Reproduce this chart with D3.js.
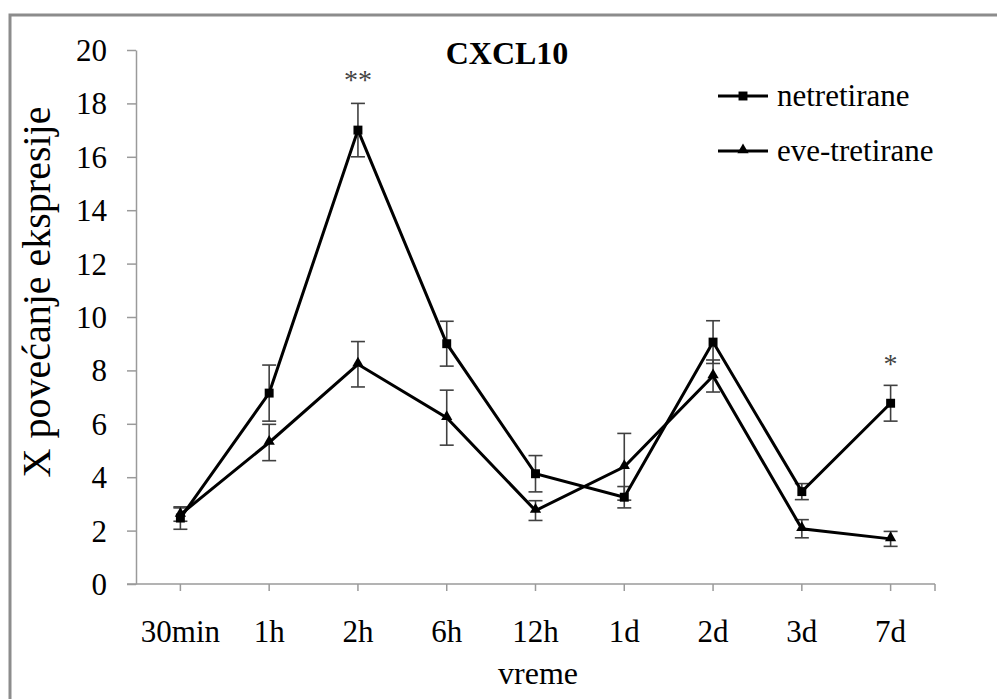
<!DOCTYPE html>
<html>
<head>
<meta charset="utf-8">
<script src="https://cdn.jsdelivr.net/npm/d3@7"></script>
<style>
body{margin:0;background:#fff;}
</style>
</head>
<body>
<script>
var categories=["30min","1h","2h","6h","12h","1d","2d","3d","7d"];
var netretirane=[2.47,7.15,17.0,9.0,4.13,3.25,9.06,3.46,6.77];
var netErr=[0.42,1.05,1.0,0.84,0.68,0.4,0.8,0.3,0.67];
var eveTretirane=[2.6,5.3,8.23,6.23,2.75,4.39,7.79,2.07,1.69];
var eveErr=[0.25,0.68,0.85,1.03,0.37,1.25,0.6,0.34,0.28];
var yTicks=[0,2,4,6,8,10,12,14,16,18,20];
var marks=[{cat:"2h",text:"**",v:18.0},{cat:"7d",text:"*",v:7.39}];

var FONT="Liberation Serif";
var width=997,height=699;
var svg=d3.select("body").append("svg")
	.attr("width",width).attr("height",height);

// frame (only left and top edges visible)
svg.append("path")
	.attr("d","M10,699 V15 H997")
	.attr("fill","none").attr("stroke","#8c8c8c").attr("stroke-width",3);

var x=d3.scaleBand().domain(categories).range([136,935]);
var y=d3.scaleLinear().domain([0,20]).range([584,50]);
var cx=function(c){return x(c)+x.bandwidth()/2;};

// axes
var yAxis=d3.axisLeft(y).tickValues(yTicks).tickSize(9).tickPadding(20).tickSizeOuter(0);
var gy=svg.append("g").attr("transform","translate(136,0)").call(yAxis);
gy.select(".domain").attr("stroke","#9a9a9a").attr("stroke-width",1.5);
gy.selectAll(".tick line").attr("stroke","#9a9a9a").attr("stroke-width",1.5);
gy.selectAll(".tick text").attr("fill","#000").attr("dy","0.34em")
	.style("font-family",FONT).style("font-size","31px");

svg.append("line").attr("x1",127).attr("x2",935).attr("y1",584).attr("y2",584)
	.attr("stroke","#9a9a9a").attr("stroke-width",1.5);
var xTickPos=categories.map(cx).concat([935]);
svg.selectAll(".xt").data(xTickPos).enter().append("line")
	.attr("x1",function(d){return d;}).attr("x2",function(d){return d;})
	.attr("y1",584).attr("y2",591).attr("stroke","#9a9a9a").attr("stroke-width",1.5);
svg.selectAll(".xl").data(categories).enter().append("text")
	.attr("x",function(d){return cx(d);}).attr("y",642)
	.style("font-family",FONT).style("font-size","31px")
	.attr("text-anchor","middle").text(function(d){return d;});

// titles
svg.append("text").attr("x",507).attr("y",64).attr("text-anchor","middle")
	.style("font-family",FONT).style("font-size","32px").style("font-weight","bold")
	.text("CXCL10");
svg.append("text").attr("x",538).attr("y",684).attr("text-anchor","middle")
	.style("font-family",FONT).style("font-size","32px").text("vreme");
svg.append("text").attr("transform","translate(50,292) rotate(-90)")
	.attr("text-anchor","middle")
	.style("font-family",FONT).style("font-size","40px").text("X povećanje ekspresije");

var line=d3.line().x(function(d,i){return cx(categories[i]);}).y(function(d){return y(d);});

function errorBars(vals,errs){
	var g=svg.append("g").attr("stroke","#404040").attr("stroke-width",1.6);
	vals.forEach(function(v,i){
		var px=cx(categories[i]);
		g.append("line").attr("x1",px).attr("x2",px).attr("y1",y(v-errs[i])).attr("y2",y(v+errs[i]));
		[v-errs[i],v+errs[i]].forEach(function(e){
			g.append("line").attr("x1",px-7).attr("x2",px+7).attr("y1",y(e)).attr("y2",y(e));
		});
	});
}
errorBars(netretirane,netErr);
errorBars(eveTretirane,eveErr);

svg.append("path").attr("d",line(netretirane)).attr("fill","none")
	.attr("stroke","#000").attr("stroke-width",3);
svg.append("path").attr("d",line(eveTretirane)).attr("fill","none")
	.attr("stroke","#000").attr("stroke-width",3);

var sq=d3.symbol().type(d3.symbolSquare).size(80);
var tri=d3.symbol().type(d3.symbolTriangle).size(55);
svg.selectAll(".sq").data(netretirane).enter().append("path")
	.attr("d",sq).attr("fill","#000")
	.attr("transform",function(d,i){return "translate("+cx(categories[i])+","+y(d)+")";});
svg.selectAll(".tr").data(eveTretirane).enter().append("path")
	.attr("d",tri).attr("fill","#000")
	.attr("transform",function(d,i){return "translate("+cx(categories[i])+","+(y(d)-1)+")";});

// significance marks
svg.selectAll(".sig").data(marks).enter().append("text")
	.attr("x",function(d){return cx(d.cat);}).attr("y",function(d){return y(d.v)-14;})
	.style("font-family",FONT).style("font-size","28px")
	.attr("text-anchor","middle").attr("fill","#444")
	.text(function(d){return d.text;});

// legend
var legend=[{name:"netretirane",sym:sq,y:96},{name:"eve-tretirane",sym:tri,y:151}];
legend.forEach(function(l){
	svg.append("line").attr("x1",718).attr("x2",768).attr("y1",l.y).attr("y2",l.y)
		.attr("stroke","#000").attr("stroke-width",3);
	svg.append("path").attr("d",l.sym).attr("fill","#000")
		.attr("transform","translate(743,"+(l.sym===tri?l.y-1:l.y)+")");
	svg.append("text").attr("x",777).attr("y",l.y+10)
		.style("font-family",FONT).style("font-size","31px").text(l.name);
});
</script>
</body>
</html>
